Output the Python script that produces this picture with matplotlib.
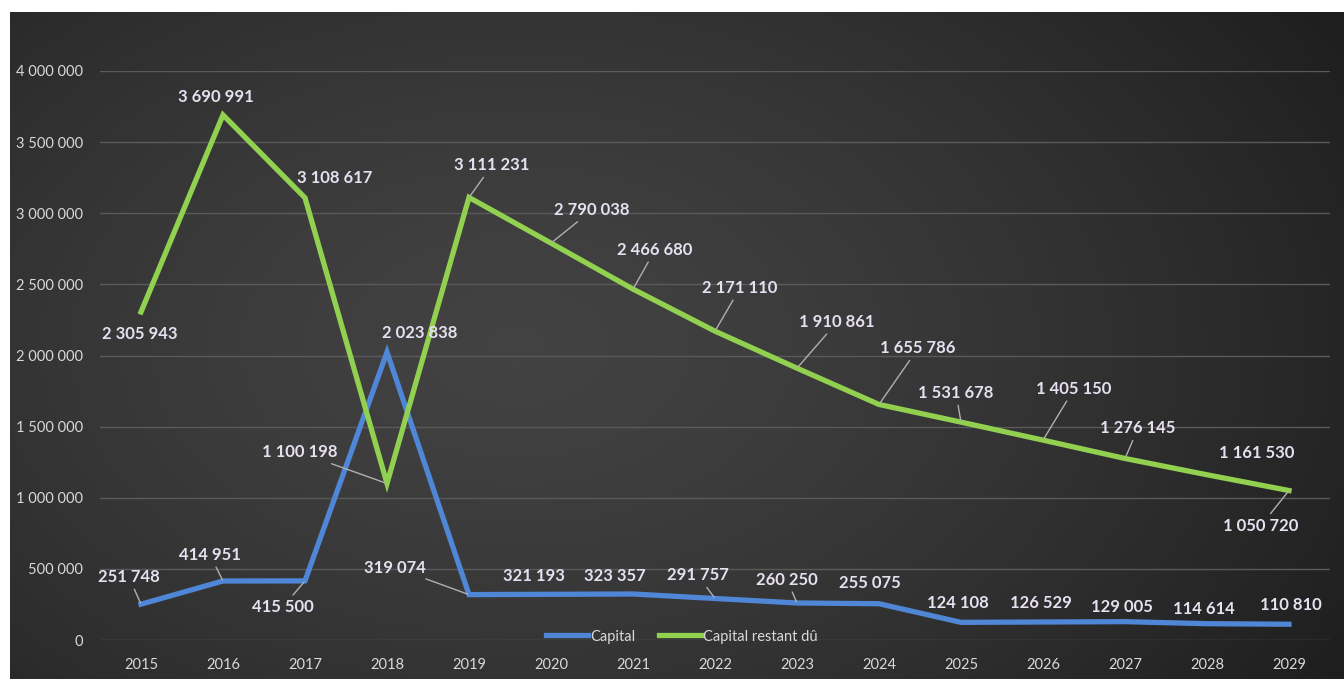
import numpy as np
import matplotlib
matplotlib.use("Agg")
import matplotlib.pyplot as plt

years = ["2015", "2016", "2017", "2018", "2019", "2020", "2021", "2022",
         "2023", "2024", "2025", "2026", "2027", "2028", "2029"]
capital = [251748, 414951, 415500, 2023838, 319074, 321193, 323357, 291757,
           260250, 255075, 124108, 126529, 129005, 114614, 110810]
restant = [2305943, 3690991, 3108617, 1100198, 3111231, 2790038, 2466680,
           2171110, 1910861, 1655786, 1531678, 1405150, 1276145, 1161530, 1050720]
yticks = [0, 500000, 1000000, 1500000, 2000000, 2500000, 3000000, 3500000, 4000000]

# label offsets in pixels (dx, dy) and whether a leader line is drawn
cap_off = [(-12, 27), (-13, 26), (-22, -26), (33, 19), (-74, 27), (-17, 18), (-18, 18),
           (-17, 23), (-10, 23), (-9, 21), (-3, 19), (-2, 19), (-3, 15), (-3, 15), (2, 19)]
cap_lead = [True, True, True, False, True, False, False, True, True, False,
            False, False, False, False, False]
res_off = [(-1, -22), (-7, 18), (30, 20), (-87, 31), (23, 32), (41, 33), (22, 39),
           (25, 43), (40, 46), (39, 56), (-5, 29), (31, 51), (13, 30), (50, 22), (-28, -35)]
res_lead = [False, False, False, True, True, True, True, True, True, True,
            True, True, True, False, True]

def fmt(v):
    return f"{v:,}".replace(",", " ")

W, H = 1344, 679
fig = plt.figure(figsize=(W / 100, H / 100), dpi=100)
fig.patch.set_facecolor("white")

# background gradient panel
bg = fig.add_axes([10 / W, 0, 1 - 10 / W, 667 / H])
bg.set_axis_off()
gx, gy = np.meshgrid(np.linspace(0, 1, 400), np.linspace(0, 1, 200))
cx, cy = 0.38, 0.5
d = np.sqrt(((gx - cx) / 1.0) ** 2 + ((gy - cy) / 1.3) ** 2)
val = 0.26 - 0.14 * np.clip(d / 0.72, 0, 1) ** 1.4
img = np.dstack([val, val, val])
bg.imshow(img, aspect="auto", extent=[0, 1, 0, 1], origin="upper", interpolation="bilinear")
bg.set_xlim(0, 1)
bg.set_ylim(0, 1)

ax = fig.add_axes([100 / W, (H - 640) / H, 1230 / W, 569 / H])
ax.set_facecolor("none")
x = np.arange(len(years))

ax.set_xlim(-0.5, len(years) - 0.5)
ax.set_ylim(0, 4000000)
ax.set_yticks(yticks)
ax.set_yticklabels([fmt(v) for v in yticks])
ax.set_xticks(x)
ax.set_xticklabels(years)
for s in ax.spines.values():
    s.set_visible(False)
ax.tick_params(length=0, colors="#d9d9d9", labelsize=10.5)
ax.tick_params(axis="y", pad=12)
ax.tick_params(axis="x", pad=13)
for lab in ax.get_xticklabels() + ax.get_yticklabels():
    lab.set_fontfamily("Lato")
ax.grid(axis="y", color="#5a5a5a", lw=1)
ax.set_axisbelow(True)

lc, = ax.plot(x, capital, color="#4f86d6", lw=3.8, solid_joinstyle="miter", label="Capital", zorder=3)
lr, = ax.plot(x, restant, color="#92d050", lw=3.8, solid_joinstyle="miter", label="Capital restant dû", zorder=3)

lab_col = "#e6e0f0"
def label(xi, v, off, lead):
    kw = {}
    if lead:
        kw["arrowprops"] = dict(arrowstyle="-", color="#b0b0b0", lw=1, shrinkA=1, shrinkB=1)
    ax.annotate(fmt(v), xy=(xi, v), xytext=off, textcoords="offset pixels",
                ha="center", va="center", color=lab_col, fontsize=12,
                fontweight="bold", fontfamily="Lato", annotation_clip=False, zorder=5, **kw)

for i in range(len(years)):
    label(x[i], capital[i], cap_off[i], cap_lead[i])
    label(x[i], restant[i], res_off[i], res_lead[i])

leg = ax.legend(loc="center", bbox_to_anchor=(0.473, 0.006), ncol=2, frameon=False,
                handlelength=2.9, handletextpad=0.15, columnspacing=1.6,
                prop={"family": "Lato", "size": 10.5})
for t in leg.get_texts():
    t.set_color("#d9d9d9")

fig.savefig("out.png", dpi=100)
